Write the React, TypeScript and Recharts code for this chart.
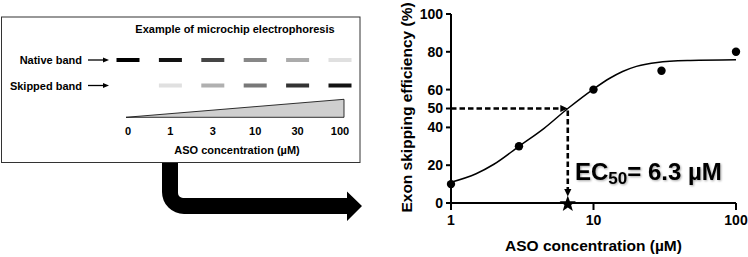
import React from 'react';
import {
  ComposedChart,
  ScatterChart,
  Line,
  Scatter,
  XAxis,
  YAxis,
  ReferenceLine,
  ReferenceDot,
} from 'recharts';

// gel example (left panel)
const laneLabels = ['0', '1', '3', '10', '30', '100'];
const rowLabels = ['Native band', 'Skipped band'];
const nativeDarkness = [100, 93, 73, 47, 33, 12];
const skippedDarkness = [0, 12, 31, 53, 80, 93];

// dose-response (right panel)
const doseX = [1, 3, 10, 30, 100];
const doseY = [10, 30, 60, 70, 80];
const fitX = [1, 1.5, 2, 3, 4.5, 6.6, 10, 13, 16, 20, 28, 48, 100];
const fitY = [11, 15.5, 20.5, 30, 39.5, 50, 60.3, 66, 69.6, 72.3, 74.4, 75.4, 75.8];
const xTicks = [1, 10, 100];
const yTicks = [0, 20, 40, 50, 60, 80, 100];
const ec50Mark = 6.6;
const ec50Label = '6.3';

const FONT = '"Liberation Sans", Arial, sans-serif';

const measured = doseX.map((x, i) => ({ x, y: doseY[i] }));
const fitted = fitX.map((x, i) => ({ x, y: fitY[i] }));

const gelData = [
  ...laneLabels.map((_, i) => ({ lane: i, row: 2, dark: nativeDarkness[i] })),
  ...laneLabels.map((_, i) => ({ lane: i, row: 1, dark: skippedDarkness[i] })),
];

const grey = (d: number) => {
  const v = Math.round(255 * (1 - d / 100));
  return `rgb(${v},${v},${v})`;
};

const Band = (props: any) => {
  const { cx, cy, payload } = props;
  if (!payload || payload.dark <= 0) return <g />;
  return <rect x={cx - 11.5} y={cy - 2} width={23} height={4} fill={grey(payload.dark)} />;
};

const RowTick = (props: any) => {
  const { x, y, payload } = props;
  const label = rowLabels[2 - payload.value];
  return (
    <g>
      <text x={x - 46} y={y} dy={4} textAnchor="end" fontSize={11} fontWeight={700} fill="#000" fontFamily={FONT}>
        {label}
      </text>
      <line x1={x - 40} y1={y} x2={x - 24} y2={y} stroke="#000" strokeWidth={1.3} />
      <polygon points={`${x - 19},${y} ${x - 25},${y - 2.5} ${x - 25},${y + 2.5}`} fill="#000" />
    </g>
  );
};

const Dot = (props: any) => <circle cx={props.cx} cy={props.cy} r={4.2} fill="#000" />;

const dashedArrow = (props: any) => {
  const { x1, y1, x2, y2 } = props;
  const ang = Math.atan2(y2 - y1, x2 - x1);
  const L = 7.5;
  const W = 3.6;
  const bx = x2 - L * Math.cos(ang);
  const by = y2 - L * Math.sin(ang);
  const px = -Math.sin(ang) * W;
  const py = Math.cos(ang) * W;
  return (
    <g>
      <line x1={x1} y1={y1} x2={bx} y2={by} stroke="#000" strokeWidth={2.6} strokeDasharray="5.5 3" />
      <polygon points={`${x2},${y2} ${bx + px},${by + py} ${bx - px},${by - py}`} fill="#000" />
    </g>
  );
};

const Star = (props: any) => {
  const { cx, cy } = props;
  const R = 8.6;
  const r = 3.5;
  const pts: string[] = [];
  for (let i = 0; i < 10; i++) {
    const a = -Math.PI / 2 + (i * Math.PI) / 5;
    const rad = i % 2 === 0 ? R : r;
    pts.push(`${cx + rad * Math.cos(a)},${cy + 1 + rad * Math.sin(a)}`);
  }
  return <polygon points={pts.join(' ')} fill="#000" />;
};

const tickStyle = { fill: '#000', fontSize: 14, fontWeight: 700, fontFamily: FONT };

export default function App() {
  return (
    <div style={{ position: 'absolute', left: 0, top: 0, width: 748, height: 257, background: '#fff', fontFamily: FONT }}>
      <div style={{ position: 'absolute', left: 0, top: 0 }}>
        <ComposedChart width={748} height={257} margin={{ top: 14, right: 12, bottom: 0, left: 391 }}>
          <XAxis
            dataKey="x"
            type="number"
            scale="log"
            domain={[1, 100]}
            ticks={xTicks}
            height={54}
            stroke="#000"
            strokeWidth={2}
            tickSize={7}
            tickMargin={5}
            tick={tickStyle}
            label={{
              value: 'ASO concentration (µM)',
              position: 'insideBottom',
              offset: 6,
              style: { fill: '#000', fontSize: 15.5, fontWeight: 700, fontFamily: FONT },
            }}
          />
          <YAxis
            dataKey="y"
            type="number"
            domain={[0, 100]}
            ticks={yTicks}
            interval={0}
            width={60}
            stroke="#000"
            strokeWidth={2}
            tickSize={5}
            tickMargin={3}
            tick={tickStyle}
          />
          <ReferenceLine
            segment={[{ x: 1, y: 50 }, { x: ec50Mark, y: 50 }]}
            ifOverflow="visible"
            shape={dashedArrow}
          />
          <ReferenceLine
            segment={[{ x: ec50Mark, y: 49 }, { x: ec50Mark, y: 3.5 }]}
            ifOverflow="visible"
            shape={dashedArrow}
          />
          <Line
            data={fitted}
            dataKey="y"
            type="monotone"
            stroke="#000"
            strokeWidth={1.5}
            dot={false}
            activeDot={false}
            isAnimationActive={false}
          />
          <Scatter data={measured} dataKey="y" shape={Dot} isAnimationActive={false} />
          <ReferenceDot x={ec50Mark} y={0} ifOverflow="visible" shape={Star} />
        </ComposedChart>
      </div>

      <svg width={748} height={257} style={{ position: 'absolute', left: 0, top: 0, pointerEvents: 'none' }}>
        <defs>
          <filter id="soft" x="-5%" y="-20%" width="110%" height="140%">
            <feDropShadow dx="1" dy="1" stdDeviation="0.8" floodColor="#000" floodOpacity="0.35" />
          </filter>
        </defs>
        <text
          x={412}
          y={107.5}
          transform="rotate(-90 412 107.5)"
          textAnchor="middle"
          fontSize={15.5}
          fontWeight={700}
          fill="#000"
          fontFamily={FONT}
        >
          Exon skipping efficiency (%)
        </text>
        <rect x={1.5} y={17} width={358.5} height={145.5} fill="#fff" stroke="#333" strokeWidth={1} />
        <text x={235} y={33} textAnchor="middle" fontSize={11} fontWeight={700} fill="#000" fontFamily={FONT}>
          Example of microchip electrophoresis
        </text>
        <polygon points="126,117.3 344,99.3 344,117.3" fill="#cfcfcf" stroke="#000" strokeWidth={0.8} />
        <path
          d="M162,163 L178,163 L178,193 A5,5 0 0 0 183,198 L347,198 L347,191.5 L362,206 L347,221 L347,214 L184,214 A22,22 0 0 1 162,192 Z"
          fill="#000"
        />
        <text x={575} y={180} fontSize={24} fontWeight={700} fill="#000" fontFamily={FONT} filter="url(#soft)">
          EC
          <tspan fontSize={17} dy={4}>50</tspan>
          <tspan dy={-4}>{`= ${ec50Label} µM`}</tspan>
        </text>
      </svg>

      <div style={{ position: 'absolute', left: 0, top: 0 }}>
        <ScatterChart width={362} height={170} margin={{ top: 60, right: 22, bottom: 0, left: 0 }}>
          <XAxis
            dataKey="lane"
            type="number"
            domain={[0, 5]}
            ticks={[0, 1, 2, 3, 4, 5]}
            interval={0}
            tickFormatter={(v: number) => laneLabels[v]}
            height={59}
            axisLine={false}
            tickLine={false}
            tickSize={0}
            tickMargin={16}
            tick={{ ...tickStyle, fontSize: 11 }}
            label={{
              value: 'ASO concentration (µM)',
              position: 'insideBottom',
              offset: 16,
              dx: 3,
              style: { fill: '#000', fontSize: 11, fontWeight: 700, fontFamily: FONT },
            }}
          />
          <YAxis
            dataKey="row"
            type="number"
            domain={[0, 2]}
            ticks={[1, 2]}
            interval={0}
            width={128}
            axisLine={false}
            tickLine={false}
            tickSize={0}
            tickMargin={0}
            tick={RowTick}
          />
          <Scatter data={gelData} shape={Band} isAnimationActive={false} />
        </ScatterChart>
      </div>
    </div>
  );
}
